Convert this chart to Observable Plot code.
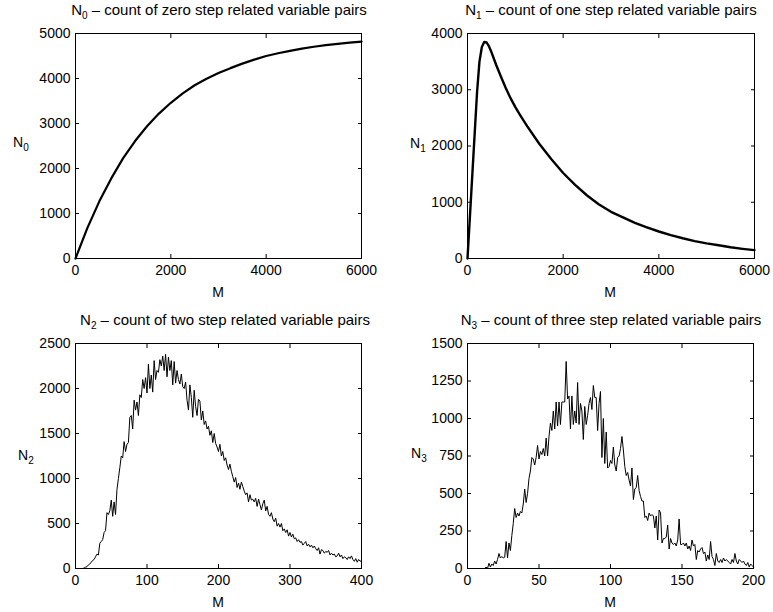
<!DOCTYPE html>
<html><head><meta charset="utf-8">
<script src="https://cdn.jsdelivr.net/npm/d3@7"></script>
<script src="https://cdn.jsdelivr.net/npm/@observablehq/plot@0.6"></script>
<style>
body{margin:0;background:#fff;}
#chart{position:relative;width:773px;height:612px;overflow:hidden;font-family:"Liberation Sans",Arial,sans-serif;color:#000;}
.panel{position:absolute;}
.txt{position:absolute;white-space:nowrap;font-size:14px;line-height:14px;}
.ttl{font-size:15px;line-height:15px;}
.ctr{transform:translateX(-50%);}
.txt sub{font-size:10px;vertical-align:-4px;line-height:0;}
</style>
</head><body>
<div id="chart"></div>
<script>
// ---- N0: count of zero step related variable pairs ----
const n0M =      [0, 250, 500, 750, 1000, 1250, 1500, 1750, 2000, 2250, 2500, 2750, 3000, 3250, 3500, 3750, 4000, 4250, 4500, 4750, 5000, 5250, 5500, 5750, 6000];
const n0Values = [0, 680, 1270, 1780, 2230, 2610, 2940, 3220, 3460, 3670, 3850, 3995, 4120, 4230, 4330, 4420, 4500, 4560, 4615, 4665, 4705, 4740, 4770, 4797, 4820];

// ---- N1: count of one step related variable pairs ----
const n1M =      [0, 50, 100, 150, 200, 250, 300, 350, 400, 450, 500, 600, 700, 800, 900, 1000, 1100, 1250, 1500, 1750, 2000, 2250, 2500, 2750, 3000, 3250, 3500, 3750, 4000, 4250, 4500, 4750, 5000, 5250, 5500, 5750, 6000];
const n1Values = [0, 740, 1480, 2220, 2960, 3500, 3760, 3850, 3840, 3770, 3670, 3440, 3230, 3030, 2850, 2690, 2550, 2350, 2040, 1770, 1520, 1310, 1120, 960, 830, 730, 635, 555, 480, 415, 360, 310, 270, 235, 200, 172, 148];

// ---- N2: count of two step related variable pairs (M = 0..400 step 2) ----
const n2M = d3.range(0, 401, 2);
const n2Values = [
  0,0,0,0,0,0,5,15,20,40,
  50,70,90,100,130,160,150,280,300,320,
  400,420,620,600,640,760,580,740,600,880,
  1000,1120,1250,1230,1410,1300,1380,1400,1680,1700,
  1550,1870,1760,1850,1700,1930,1900,2100,2000,2120,
  1950,2270,2000,2150,1960,2310,2100,2200,2180,2320,
  2250,2360,2200,2380,2130,2350,2200,2310,2040,2300,
  2060,2200,2100,2050,2160,2020,2000,2070,1870,1760,
  2040,1900,1680,1980,1800,1700,1880,1860,1650,1750,
  1600,1640,1550,1580,1480,1530,1400,1500,1390,1350,
  1300,1380,1250,1300,1200,1230,1150,1100,1160,1080,
  1020,960,1010,900,950,880,960,910,860,820,
  840,740,820,760,770,740,780,690,770,710,
  650,720,760,640,690,600,580,620,550,520,
  560,470,500,460,500,420,440,400,430,360,
  400,350,380,330,340,300,320,290,300,260,
  280,300,250,270,240,260,230,250,220,200,
  230,160,210,200,170,190,180,200,150,170,
  150,160,130,140,170,130,150,110,130,120,
  100,130,110,140,100,80,110,70,100,80,
  90
];

// ---- N3: count of three step related variable pairs (M = 0..200 step 1) ----
const n3M = d3.range(0, 201, 1);
const n3Values = [
  0,0,0,0,0,0,0,0,0,0,
  0,0,0,10,0,35,10,30,20,50,
  30,60,100,70,80,70,75,180,70,170,
  120,220,300,400,340,370,350,380,370,430,
  530,440,500,600,650,740,730,690,740,820,
  730,780,760,800,750,870,750,880,970,920,
  1050,930,1110,950,1110,960,1110,1110,1110,1380,
  1130,1150,930,1150,960,1050,970,1240,960,1100,
  1050,860,1080,960,1020,1100,1140,1060,1220,1140,
  1140,920,1100,1180,740,1000,700,910,670,680,
  720,700,810,690,650,740,750,800,880,790,
  680,620,640,590,550,670,460,530,540,620,
  520,480,450,450,340,350,320,370,350,360,
  350,270,350,190,390,370,170,200,200,210,
  290,130,200,170,160,170,150,190,330,160,
  160,170,150,170,130,150,120,190,150,160,
  60,120,110,130,140,100,110,50,90,60,
  180,80,60,20,100,50,40,60,40,70,
  50,60,50,40,30,60,40,100,50,30,
  60,50,40,50,30,20,40,10,30,20,
  10
];

// ---- tick values ----
const n0XTicks = [0, 2000, 4000, 6000];
const n0YTicks = [0, 1000, 2000, 3000, 4000, 5000];
const n1XTicks = [0, 2000, 4000, 6000];
const n1YTicks = [0, 1000, 2000, 3000, 4000];
const n2XTicks = [0, 100, 200, 300, 400];
const n2YTicks = [0, 500, 1000, 1500, 2000, 2500];
const n3XTicks = [0, 50, 100, 150, 200];
const n3YTicks = [0, 250, 500, 750, 1000, 1250, 1500];

const titles = [
  ["N", "0", " – count of zero step related variable pairs"],
  ["N", "1", " – count of one step related variable pairs"],
  ["N", "2", " – count of two step related variable pairs"],
  ["N", "3", " – count of three step related variable pairs"]
];

const chart = document.getElementById("chart");
const fmt = d => String(d);
const TK = 4; // inward tick length

function panel(cfg) {
  const data = cfg.xs.map((x, i) => ({M: x, N: cfg.ys[i]}));
  const svg = Plot.plot({
    width: cfg.width, height: cfg.height,
    marginLeft: cfg.mL, marginTop: cfg.mT, marginRight: cfg.mR, marginBottom: cfg.mB,
    x: {domain: cfg.xDomain},
    y: {domain: cfg.yDomain},
    style: {fontFamily: '"Liberation Sans", Arial, sans-serif', fontSize: "14px", color: "#000", background: "transparent", overflow: "visible"},
    marks: [
      Plot.line(data, {x: "M", y: "N", stroke: "#000", strokeWidth: cfg.sw, strokeLinejoin: "round", curve: "linear"}),
      Plot.axisX({ticks: cfg.xTicks, anchor: "bottom", tickSize: 0, tickPadding: 7, tickFormat: fmt, label: null}),
      Plot.axisX({ticks: cfg.xTicks, anchor: "bottom", tickSize: TK, dy: -TK, fill: "none", label: null}),
      Plot.axisX({ticks: cfg.xTicks, anchor: "top", tickSize: TK, dy: TK, fill: "none", label: null}),
      Plot.axisY({ticks: cfg.yTicks, anchor: "left", tickSize: 0, tickPadding: 5, tickFormat: fmt, label: null}),
      Plot.axisY({ticks: cfg.yTicks, anchor: "left", tickSize: TK, dx: TK, fill: "none", label: null}),
      Plot.axisY({ticks: cfg.yTicks, anchor: "right", tickSize: TK, dx: -TK, fill: "none", label: null}),
      Plot.frame({stroke: "#000", strokeWidth: 1})
    ]
  });
  const wrap = document.createElement("div");
  wrap.className = "panel";
  wrap.style.left = cfg.left + "px";
  wrap.style.top = cfg.top + "px";
  wrap.appendChild(svg);
  chart.appendChild(wrap);

  const t = document.createElement("div");
  t.className = "txt ttl ctr";
  t.style.left = cfg.titleX + "px";
  t.style.top = cfg.titleY + "px";
  t.innerHTML = cfg.title[0] + "<sub>" + cfg.title[1] + "</sub>" + cfg.title[2];
  chart.appendChild(t);

  const yl = document.createElement("div");
  yl.className = "txt";
  yl.style.left = cfg.ylX + "px";
  yl.style.top = cfg.ylY + "px";
  yl.innerHTML = cfg.title[0] + "<sub>" + cfg.title[1] + "</sub>";
  chart.appendChild(yl);

  const xl = document.createElement("div");
  xl.className = "txt ctr";
  xl.style.left = cfg.xlX + "px";
  xl.style.top = cfg.xlY + "px";
  xl.textContent = "M";
  chart.appendChild(xl);
}

panel({left: 0, top: 0, width: 386, height: 300, mL: 75, mT: 33, mR: 25, mB: 42,
  xDomain: [0, 6000], yDomain: [0, 5000], xTicks: n0XTicks, yTicks: n0YTicks,
  xs: n0M, ys: n0Values, sw: 2.2, title: titles[0],
  titleX: 219, titleY: 2, ylX: 13, ylY: 135, xlX: 218, xlY: 285});

panel({left: 383, top: 0, width: 390, height: 300, mL: 84, mT: 33, mR: 19, mB: 42,
  xDomain: [0, 6000], yDomain: [0, 4000], xTicks: n1XTicks, yTicks: n1YTicks,
  xs: n1M, ys: n1Values, sw: 2.4, title: titles[1],
  titleX: 611, titleY: 2, ylX: 410, ylY: 136, xlX: 610, xlY: 285});

panel({left: 0, top: 300, width: 386, height: 312, mL: 75, mT: 43, mR: 25, mB: 44,
  xDomain: [0, 400], yDomain: [0, 2500], xTicks: n2XTicks, yTicks: n2YTicks,
  xs: n2M, ys: n2Values, sw: 1, title: titles[2],
  titleX: 225, titleY: 312, ylX: 18, ylY: 448, xlX: 218, xlY: 595});

panel({left: 383, top: 300, width: 390, height: 312, mL: 84, mT: 43, mR: 20, mB: 44,
  xDomain: [0, 200], yDomain: [0, 1500], xTicks: n3XTicks, yTicks: n3YTicks,
  xs: n3M, ys: n3Values, sw: 1, title: titles[3],
  titleX: 611, titleY: 312, ylX: 411, ylY: 446, xlX: 610, xlY: 595});
</script>
</body></html>
